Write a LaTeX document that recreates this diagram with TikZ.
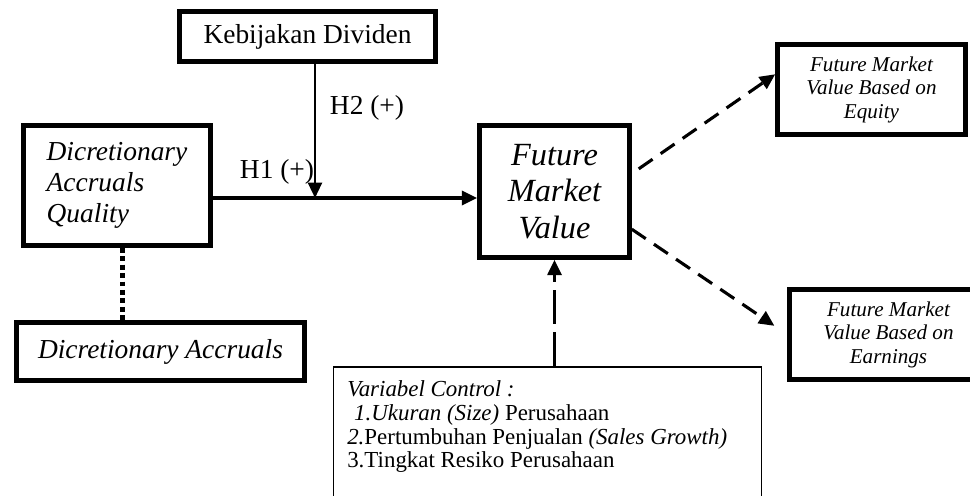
\documentclass[tikz,border=0pt]{standalone}
\usepackage{fontspec}
\setmainfont{Liberation Serif}
\usetikzlibrary{arrows.meta,positioning}

\begin{document}
\begin{tikzpicture}[x=0.025cm,y=-0.025cm,
    box/.style={draw,line width=3.2pt,inner sep=0pt},
    thinbox/.style={draw,line width=1.3pt,inner sep=0pt},
    arr/.style={line width=2.5pt,-{Triangle[length=11pt,width=10pt]}},
    dasharr/.style={line width=2.2pt,dash pattern=on 12pt off 7pt,-{Triangle[length=11pt,width=10pt]}},
    lbl/.style={font=\fontsize{19.5}{22}\selectfont}]
\useasboundingbox (0,0) rectangle (970,495);
% boxes
\node[box,minimum width=6.4cm,minimum height=1.25cm,font=\fontsize{19.5}{22}\selectfont] (kd) at (307.5,36.5) {Kebijakan Dividen};
\node[box,minimum width=4.675cm,minimum height=3.0cm,align=left,font=\fontsize{19.5}{22}\selectfont\itshape] (daq) at (117,185.5) {Dicretionary\\Accruals\\Quality};
\node[box,minimum width=7.2cm,minimum height=1.45cm,font=\fontsize{19.5}{22}\selectfont\itshape] (da) at (160.5,351.5) {Dicretionary Accruals};
\node[box,minimum width=3.75cm,minimum height=3.3cm,align=center,font=\fontsize{23}{26}\selectfont\itshape] (fmv) at (554.5,191.5) {Future\\Market\\Value};
\node[box,minimum width=4.7cm,minimum height=2.25cm,align=center,font=\fontsize{15}{16.7}\selectfont\itshape] (eq) at (871.5,89.5) {Future Market\\Value Based on\\Equity};
\node[box,minimum width=4.95cm,minimum height=2.25cm,align=center,font=\fontsize{15}{16.7}\selectfont\itshape] (earn) at (888.5,334.5) {Future Market\\Value Based on\\Earnings};
% control variables
\node[thinbox,minimum width=10.7cm,minimum height=4cm] (ctrl) at (547.5,447) {};
\node[anchor=north west,align=left,inner sep=0pt,font=\fontsize{16.3}{17}\selectfont] (ctrltext) at (347,380) {%
    \textit{Variabel Control :}\\
    \hspace{0.3em}\textit{1.Ukuran (Size)} Perusahaan\\
    \textit{2.}Pertumbuhan Penjualan \textit{(Sales Growth)}\\
    3.Tingkat Resiko Perusahaan};
% connectors
\coordinate (j) at (315,198);
\draw[arr] (daq.east |- j) -- (fmv.west |- j);
\draw[arr,line width=1.7pt] (kd.south -| j) -- (j);
\node[lbl] (h2) at (367,108) {H2 (+)};
\node[lbl] (h1) at (277,172) {H1 (+)};
\draw[line width=3.5pt,dash pattern=on 3.5pt off 2.5pt] ([xshift=4pt]daq.south) -- ([xshift=4pt]da.north -| daq.south);
\draw[dasharr,shorten <=6pt] (fmv.13) -- (eq.171);
\draw[dasharr,shorten >=11pt] (fmv.-26) -- (earn.west);
\draw[arr,line width=2.2pt,dash pattern=on 24pt off 6pt] (ctrl.north -| fmv.south) -- (fmv.south);
\end{tikzpicture}
\end{document}
